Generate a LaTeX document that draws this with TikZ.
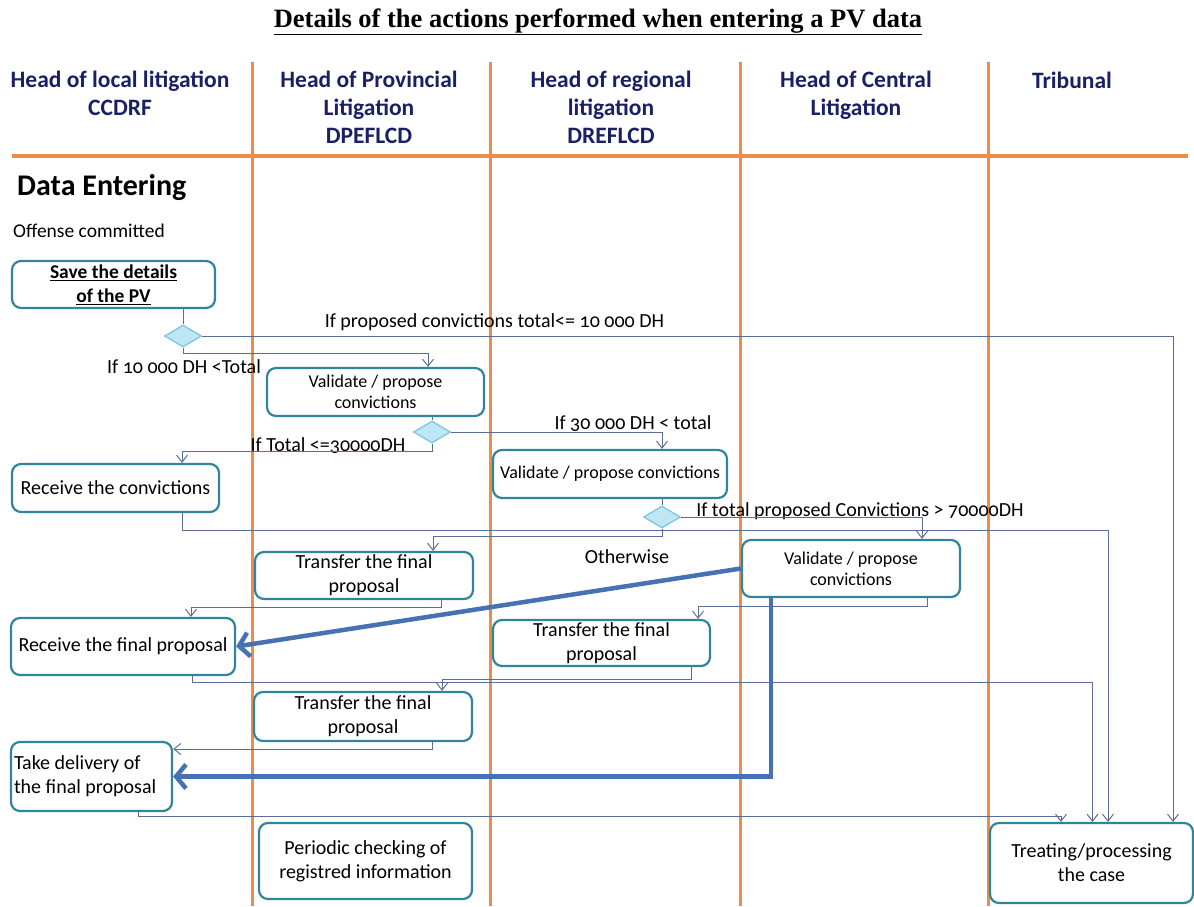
\documentclass[tikz,border=0pt]{standalone}
\usepackage{fontspec}
\setmainfont{Carlito}
\newfontfamily\titlefont{Liberation Serif}
\newfontfamily\numfont{Carlito}[Numbers=OldStyle]
\usetikzlibrary{arrows.meta,shapes.geometric}
\definecolor{laneorange}{RGB}{236,140,72}
\definecolor{headblue}{RGB}{25,32,100}
\definecolor{boxteal}{RGB}{49,133,155}
\definecolor{flowgray}{RGB}{90,110,145}
\definecolor{directblue}{RGB}{70,114,180}
\definecolor{choicefill}{RGB}{190,230,245}
\definecolor{choiceline}{RGB}{120,195,222}

\begin{document}
\begin{tikzpicture}[x=1pt, y=-1pt,
	lane/.style={draw=laneorange, line width=3pt},
	head/.style={text=headblue, align=center, inner sep=0pt, font=\fontsize{23.5}{28}\selectfont\bfseries},
	box/.style={draw=boxteal, line width=2.2pt, rounded corners=9pt, fill=white, align=center, inner sep=2pt, font=\fontsize{20}{24}\selectfont},
	smallbox/.style={box, font=\fontsize{18}{21}\selectfont},
	choice/.style={diamond, draw=choiceline, fill=choicefill, line width=1.2pt, minimum width=37pt, minimum height=22pt, inner sep=0pt},
	flow/.style={draw=flowgray, line width=1pt, -{Straight Barb[length=7pt,width=11pt]}},
	link/.style={draw=flowgray, line width=1pt},
	direct/.style={draw=directblue, line width=4.5pt, -{Straight Barb[length=10pt,width=24pt]}},
	cond/.style={font=\numfont\fontsize{20}{22}\selectfont, inner sep=0pt}]
			\useasboundingbox (0,0) rectangle (1194,906);
			\node[font=\titlefont\fontsize{26.5}{30}\selectfont\bfseries] at (598,22) (title) {\underline{Details of the actions performed when entering a PV data}};
			\foreach \x in {252,490,740,988}
				\draw[lane] (\x,62) -- (\x,906);
			\draw[lane, line width=4pt] (12,156) -- (1188,156);
			\node[head] at (120,93) (h1) {Head of local litigation\\CCDRF};
			\node[head] at (369,107) (h2) {Head of Provincial\\Litigation\\DPEFLCD};
			\node[head] at (611,107) (h3) {Head of regional\\litigation\\DREFLCD};
			\node[head] at (856,95) (h4) {Head of Central\\Litigation};
			\node[head] at (1072,80) (h5) {Tribunal};
			\node[anchor=west, inner sep=0pt, font=\fontsize{30}{34}\selectfont\bfseries] at (17,188) (sect) {Data Entering};
			\node[anchor=west, inner sep=0pt, font=\fontsize{19.5}{22}\selectfont] at (13,231) (start) {Offense committed};

			\node[box, minimum width=203pt, minimum height=47pt, font=\fontsize{19.5}{24}\selectfont\bfseries] at (113.5,284.5) (save) {\underline{Save the details}\\\underline{of the PV}};
			\node[smallbox, minimum width=217pt, minimum height=48pt] at (375.5,392) (val1) {Validate / propose\\convictions};
			\node[box, minimum width=207pt, minimum height=48pt] at (115.5,488) (recv) {Receive the convictions};
			\node[smallbox, minimum width=234pt, minimum height=48pt] at (610,474) (val2) {Validate / propose convictions};
			\node[box, minimum width=218pt, minimum height=47pt] at (364,575.5) (trans1) {Transfer the final\\proposal};
			\node[smallbox, minimum width=218pt, minimum height=57pt] at (851,568.5) (val3) {Validate / propose\\convictions};
			\node[box, minimum width=224pt, minimum height=57pt] at (123,646.5) (recvfinal) {Receive the final proposal};
			\node[box, minimum width=217pt, minimum height=46pt] at (601.5,643) (trans2) {Transfer the final\\proposal};
			\node[box, minimum width=218pt, minimum height=49pt] at (363,716.5) (trans3) {Transfer the final\\proposal};
			\node[box, align=flush left, text width=155pt, inner xsep=3pt, minimum height=69pt] at (91.5,776.5) (take) {Take delivery of\\the final proposal};
			\node[box, minimum width=213pt, minimum height=76pt] at (365.5,861) (periodic) {Periodic checking of\\registred information};
			\node[box, minimum width=203pt, minimum height=80pt] at (1091.5,863) (treat) {Treating/processing\\the case};

			\node[choice] at (183,336) (d1) {};
			\node[choice] at (432,432) (d2) {};
			\node[choice] at (662,517) (d3) {};

			\node[cond] at (494.5,322) (c1) {If proposed convictions total<= 10 000 DH};
			\node[cond] at (184,367) (c2) {If 10 000 DH <Total};
			\node[cond] at (633,424) (c3) {If 30 000 DH < total};
			\node[cond] at (328,446) (c4) {If Total <=30000DH};
			\node[cond] at (860,511) (c5) {If total proposed Convictions > 70000DH};
			\node[cond] at (627,557) (c6) {Otherwise};

			\draw[link] (save.south -| d1.north) -- (d1.north);
			\draw[flow] (d1.east) -| ([xshift=81.5pt]treat.north);
			\draw[flow] (d1.south) -- ++(0,6) -| ([xshift=52.5pt]val1.north);
			\draw[link] (val1.south -| d2.north) -- (d2.north);
			\draw[flow] (d2.east) -| ([xshift=52pt]val2.north);
			\draw[flow] (d2.south) -- ++(0,8) -| ([xshift=66.5pt]recv.north);
			\draw[flow] ([xshift=66.5pt]recv.south) -- ++(0,17) -| ([xshift=16.5pt]treat.north);
			\draw[link] (val2.south -| d3.north) -- (d3.north);
			\draw[flow] (d3.east) -| ([xshift=71pt]val3.north);
			\draw[flow] (d3.south) -- ++(0,8) -| ([xshift=69pt]trans1.north);
			\draw[flow] ([xshift=77pt]trans1.south) -- ++(0,7) -| ([xshift=68pt]recvfinal.north);
			\draw[flow] ([xshift=76pt]val3.south) -- ++(0,8) -| ([xshift=96.5pt]trans2.north);
			\draw[flow] ([xshift=69pt]recvfinal.south) -- ++(0,6) -| ([xshift=1pt]treat.north);
			\draw[flow] ([xshift=89.5pt]trans2.south) -- ++(0,12) -| ([xshift=79pt]trans3.north);
			\draw[flow] ([xshift=69pt]trans3.south) |- ([yshift=27.5pt]take.east);
			\draw[flow] ([xshift=46.5pt]take.south) -- ++(0,4) -| ([xshift=-30.5pt]treat.north);
			\draw[direct] (val3.west) -- (recvfinal.east);
			\draw[direct] ([xshift=-80pt]val3.south) |- (take.east);
		\end{tikzpicture}
\end{document}
